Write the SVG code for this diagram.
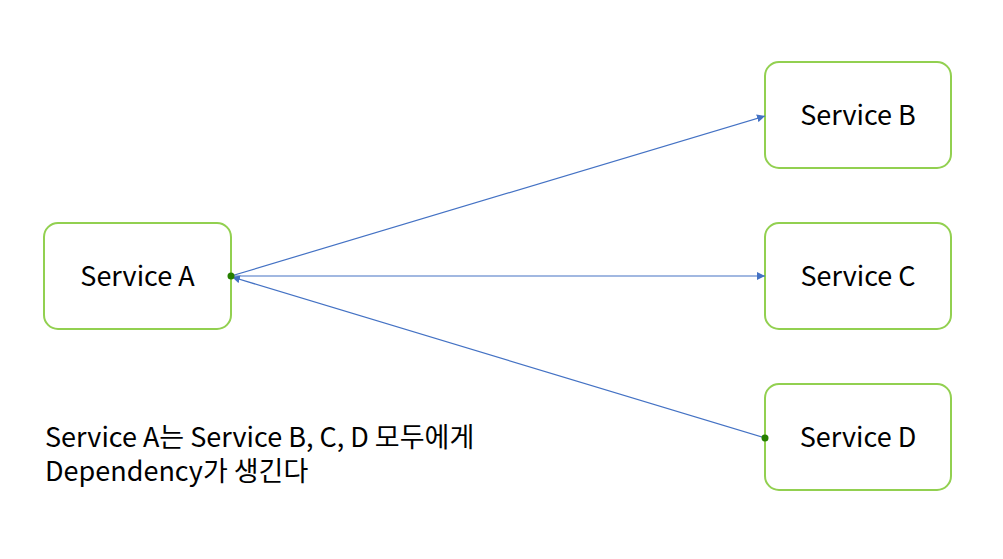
<svg xmlns="http://www.w3.org/2000/svg" width="1003" height="559" viewBox="0 0 1003 559">
<defs>
<style>
.box{fill:#fff;stroke:#92D050;stroke-width:2}
.lbl{font-family:"Noto Sans CJK KR","Noto Sans",sans-serif;font-size:27px;fill:#000;text-anchor:middle}
.note{font-family:"Noto Sans CJK KR","Noto Sans",sans-serif;font-size:27px;fill:#000}
.conn{stroke:#4472C4;stroke-width:1.2;fill:none;marker-end:url(#ah)}
.dot{fill:#267F00}
</style>
<marker id="ah" viewBox="0 0 10 10" refX="10" refY="5" markerWidth="8" markerHeight="8" markerUnits="userSpaceOnUse" orient="auto"><path d="M0,0 L10,5 L0,10 z" fill="#4472C4"/></marker>
</defs>
<rect width="1003" height="559" fill="#fff"/>
<g id="nodeA"><rect class="box" x="44" y="223" width="187" height="106" rx="14"/><text class="lbl" x="137.5" y="285.5">Service A</text></g>
<g id="nodeB"><rect class="box" x="765" y="62" width="186" height="106" rx="14"/><text class="lbl" x="858" y="124.5">Service B</text></g>
<g id="nodeC"><rect class="box" x="765" y="223" width="186" height="106" rx="14"/><text class="lbl" x="858" y="285.5">Service C</text></g>
<g id="nodeD"><rect class="box" x="765" y="384" width="186" height="106" rx="14"/><text class="lbl" x="858" y="446.5">Service D</text></g>
<g id="connectors">
<line class="conn" x1="231" y1="276" x2="765" y2="116"/>
<line class="conn" x1="231" y1="276" x2="765" y2="276"/>
<line class="conn" x1="765" y1="438" x2="232" y2="277"/>
<circle class="dot" cx="231" cy="276" r="3.5"/>
<circle class="dot" cx="765" cy="438" r="3.5"/>
</g>
<g id="note"><text class="note" x="45" y="447">Service A는 Service B, C, D 모두에게</text><text class="note" x="45" y="481">Dependency가 생긴다</text></g>
</svg>
